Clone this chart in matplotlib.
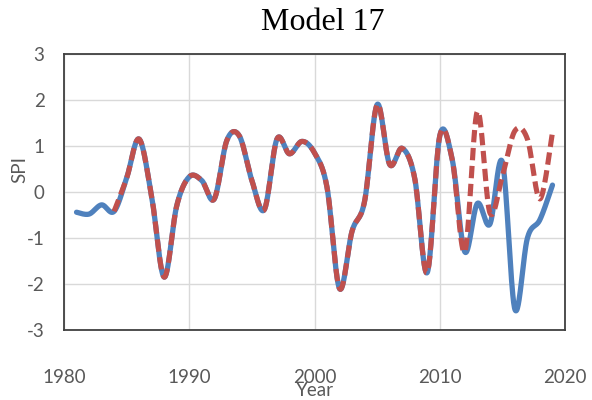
import numpy as np
import matplotlib
matplotlib.use("Agg")
import matplotlib.pyplot as plt

# ---- data ----
years_obs = list(range(1981, 2020))
spi_obs = [-0.44, -0.48, -0.28, -0.42, 0.30, 1.15, -0.10, -1.85, -0.30, 0.33,
           0.25, -0.15, 1.12, 1.22, 0.25, -0.38, 1.15, 0.83, 1.10, 0.85,
           0.10, -2.10, -0.85, -0.20, 1.90, 0.60, 0.95, 0.30, -1.75, 1.22,
           0.70, -1.30, -0.25, -0.70, 0.65, -2.55, -1.00, -0.60, 0.15]

years_mod = list(range(1984, 2020))
spi_mod = [-0.42, 0.30, 1.15, -0.10, -1.85, -0.30, 0.33,
           0.25, -0.15, 1.12, 1.22, 0.25, -0.38, 1.15, 0.83, 1.10, 0.85,
           0.10, -2.10, -0.85, -0.20, 1.90, 0.60, 0.95, 0.30, -1.75, 1.22,
           0.70, -1.30, 1.75, -0.45, 0.35, 1.33, 1.15, -0.15, 1.30]

title = "Model 17"
x_ticks = [1980, 1990, 2000, 2010, 2020]
y_ticks = [-3, -2, -1, 0, 1, 2, 3]


def smooth(x, y, n=30):
    """Excel-style smoothed line: cubic Bezier through points (Catmull-Rom controls)."""
    x = np.asarray(x, float)
    y = np.asarray(y, float)
    P = np.column_stack([x, y])
    out = []
    t = np.linspace(0, 1, n, endpoint=False)[:, None]
    for i in range(len(P) - 1):
        p0 = P[i - 1] if i > 0 else P[i]
        p1 = P[i]
        p2 = P[i + 1]
        p3 = P[i + 2] if i + 2 < len(P) else P[i + 1]
        c1 = p1 + (p2 - p0) / 6.0
        c2 = p2 - (p3 - p1) / 6.0
        seg = ((1 - t) ** 3) * p1 + 3 * ((1 - t) ** 2) * t * c1 + 3 * (1 - t) * t ** 2 * c2 + t ** 3 * p2
        out.append(seg)
    out.append(P[-1][None, :])
    out = np.vstack(out)
    return out[:, 0], out[:, 1]


fig = plt.figure(figsize=(5.92, 4.0), dpi=100)
ax = fig.add_axes([64 / 592, 70 / 400, 501 / 592, 276 / 400])

gray_text = "#595959"
bx, by = smooth(years_obs, spi_obs)
mx, my = smooth(years_mod, spi_mod)
ax.plot(bx, by, color="#4F81BD", lw=3.8, solid_capstyle="round", solid_joinstyle="round", zorder=3)
ax.plot(mx, my, color="#C0504D", lw=3.7, dashes=(2.4, 1.1), dash_capstyle="butt", zorder=4)

ax.set_xlim(1980, 2020)
ax.set_ylim(-3, 3)
ax.set_xticks(x_ticks)
ax.set_yticks(y_ticks)
ax.set_xticklabels([str(v) for v in x_ticks])
ax.set_yticklabels([str(v).replace("\u2212", "-") for v in y_ticks])
ax.grid(True, color="#D9D9D9", lw=1.0, zorder=0)
ax.set_axisbelow(True)
for s in ax.spines.values():
    s.set_color("#404040")
    s.set_linewidth(1.3)

ax.tick_params(axis="both", length=0, colors=gray_text, labelsize=13.5)
ax.tick_params(axis="x", pad=28)
ax.tick_params(axis="y", pad=14)
for lab in ax.get_xticklabels() + ax.get_yticklabels():
    lab.set_fontfamily("Lato")

ax.set_xlabel("Year", fontsize=13.5, color=gray_text, family="Lato")
ax.xaxis.set_label_coords(0.5, -0.187)
ax.set_ylabel("SPI", fontsize=13.5, color=gray_text, family="Lato")
ax.yaxis.set_label_coords(-0.072, 0.58)

fig.text(323 / 592, 1 - 22 / 400, title, ha="center", va="center",
         fontsize=23, family="Liberation Serif", color="black")

fig.savefig("out.png", dpi=100)
